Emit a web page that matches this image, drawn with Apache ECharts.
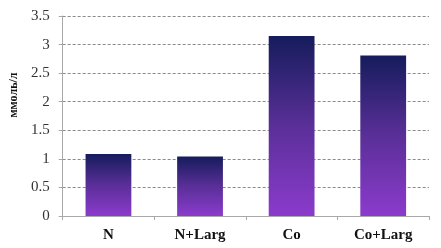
<!DOCTYPE html>
<html><head><meta charset="utf-8">
<script src="https://cdn.jsdelivr.net/npm/echarts@6/dist/echarts.min.js"></script>
<style>html,body{margin:0;padding:0;background:#fff}#c{width:441px;height:248px}</style>
</head><body><div id="c"></div>
<script>
const categories = ['N', 'N+Larg', 'Co', 'Co+Larg'];
const values = [1.085, 1.04, 3.15, 2.81];
const yTicks = [0, 0.5, 1, 1.5, 2, 2.5, 3, 3.5];
const yName = 'ммоль/л';

const chart = echarts.init(document.getElementById('c'));
chart.setOption({
  animation: false,
  grid: { left: 57, right: 12, top: 16, bottom: 32 },
  xAxis: {
    type: 'category', data: categories,
    axisLine: { lineStyle: { color: '#a8a8a8' } },
    axisTick: { show: true, length: 4, lineStyle: { color: '#a8a8a8' } },
    axisLabel: { fontFamily: 'Liberation Serif', fontWeight: 'bold', fontSize: 15, color: '#111', margin: 12 }
  },
  yAxis: {
    type: 'value', min: 0, max: 3.5, interval: 0.5,
    name: yName, nameLocation: 'middle', nameGap: 42, nameRotate: 90,
    nameTextStyle: { fontFamily: 'Liberation Serif', fontWeight: 'bold', fontSize: 12, color: '#111', padding: [0, 0, 0, 42] },
    axisLine: { show: true, lineStyle: { color: '#a8a8a8' } },
    axisTick: { show: true, length: 4, lineStyle: { color: '#a8a8a8' } },
    splitLine: { lineStyle: { type: [3, 2], color: '#8a8a8a' } },
    axisLabel: { fontFamily: 'Liberation Serif', fontSize: 15, color: '#333', margin: 13,
      formatter: v => yTicks.includes(v) ? String(v) : '' }
  },
  series: [{
    type: 'bar', data: values, barWidth: '50%',
    itemStyle: { color: new echarts.graphic.LinearGradient(0, 0, 0, 1, [
      { offset: 0, color: '#151c5c' },
      { offset: 0.5, color: '#5a2f98' },
      { offset: 1, color: '#8b3bcc' }
    ]) }
  }]
});
</script></body></html>
